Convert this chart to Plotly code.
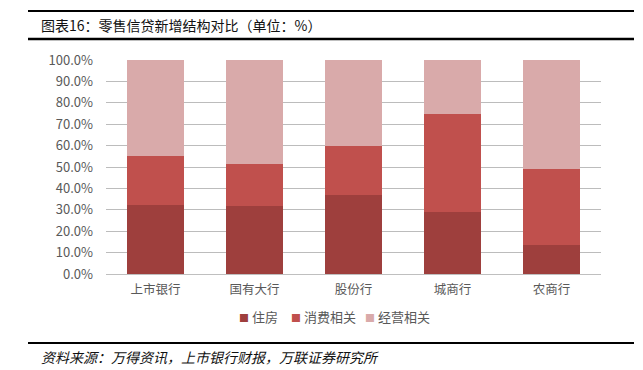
import plotly.graph_objects as go

categories = ["上市银行", "国有大行", "股份行", "城商行", "农商行"]
housing = [32.3, 32.0, 37.0, 28.8, 13.7]
consumer = [23.0, 19.5, 22.6, 45.9, 35.4]
business = [44.7, 48.5, 40.4, 25.3, 50.9]
series_names = ["住房", "消费相关", "经营相关"]
tick_vals = [0, 10, 20, 30, 40, 50, 60, 70, 80, 90, 100]
tick_text = [f"{v:.1f}%" for v in tick_vals]

colors = ["#9E3F3D", "#C0504D", "#D9AAAA"]

fig = go.Figure()
for name, vals, c in zip(series_names, [housing, consumer, business], colors):
    fig.add_trace(go.Bar(x=categories, y=vals, name=name, marker=dict(color=c, line=dict(width=0))))

L, R, T, B = 106, 42, 60, 96
W, H = 643, 370
pw = W - L - R
ph = H - T - B

def px(x):
    return (x - L) / pw

def py(y):
    return (H - B - y) / ph

# custom legend positions (pixel x of each item's marker)
legend_x = [237, 289, 363]
legend_ann = []
for name, c, lx in zip(series_names, colors, legend_x):
    legend_ann.append(dict(
        text=f"<span style='color:{c};font-size:10px'>■</span> {name}",
        xref="paper", yref="paper", x=px(lx), y=py(316), xanchor="left", yanchor="middle",
        showarrow=False, font=dict(size=13, color="#595959")))

fig.update_layout(
    width=W, height=H,
    margin=dict(l=L, r=R, t=T, b=B),
    barmode="stack",
    bargap=0.43,
    plot_bgcolor="white",
    paper_bgcolor="white",
    font=dict(family="Noto Sans CJK SC", color="#595959", size=12),
    showlegend=False,
    xaxis=dict(showline=True, linecolor="#BFBFBF", linewidth=1, ticks="",
               tickfont=dict(size=12.5, color="#595959"), ticklabelstandoff=4),
    yaxis=dict(range=[0, 100], tickvals=tick_vals, ticktext=tick_text, showgrid=True,
               gridcolor="#BCBCBC", gridwidth=1.3, zeroline=False, ticks="",
               tickfont=dict(size=13, color="#595959"), ticklabelstandoff=12),
    shapes=[
        dict(type="line", xref="paper", yref="paper", x0=px(28), x1=px(634), y0=py(11), y1=py(11),
             line=dict(color="black", width=2)),
        dict(type="line", xref="paper", yref="paper", x0=px(28), x1=px(634), y0=py(39), y1=py(39),
             line=dict(color="black", width=2.5)),
        dict(type="line", xref="paper", yref="paper", x0=px(28), x1=px(634), y0=py(343), y1=py(343),
             line=dict(color="black", width=2)),
    ],
    annotations=[
        dict(text="图表16：零售信贷新增结构对比（单位：%）", xref="paper", yref="paper",
             x=px(39), y=py(25), xanchor="left", yanchor="middle", showarrow=False,
             font=dict(family="Noto Sans CJK SC", size=14, color="#111111", weight="normal")),
        dict(text="资料来源：万得资讯，上市银行财报，万联证券研究所", xref="paper", yref="paper",
             x=px(39), y=py(357), xanchor="left", yanchor="middle", showarrow=False,
             font=dict(family="Noto Sans CJK SC", size=14, color="#111111", style="italic",
                       weight="normal")),
    ] + legend_ann,
)

fig.write_html("out.html", config={"displayModeBar": False},
               post_script="document.body.style.margin='0';")
